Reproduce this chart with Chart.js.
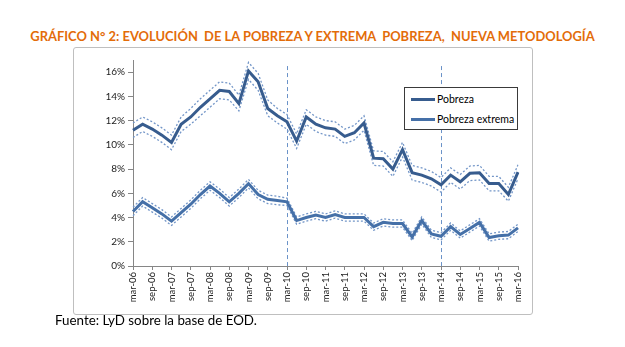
<!DOCTYPE html>
<html><head><meta charset="utf-8">
<script src="https://cdn.jsdelivr.net/npm/chart.js@4.4.1/dist/chart.umd.min.js"></script>
<style>
html,body{margin:0;padding:0;background:#fff;width:625px;height:347px;overflow:hidden;font-family:Lato,"Liberation Sans",sans-serif;}
#title{position:absolute;left:0;width:625px;top:27px;text-align:center;color:#E36C09;font-weight:bold;font-size:14px;white-space:pre;line-height:18px;}
#title span{display:inline-block;}
#box{position:absolute;left:73px;top:47px;width:460px;height:268px;box-sizing:border-box;border:1px solid #BFBFBF;border-radius:3px;}
#wrap{position:absolute;left:74px;top:48px;width:458px;height:266px;}
#legend{position:absolute;left:404px;top:87px;width:114px;height:43px;box-sizing:border-box;border:1px solid #3a3a3a;background:#fff;font-size:10.5px;color:#000;}
.item{position:absolute;left:6px;height:14px;width:105px;}
.swatch{position:absolute;left:0;top:6px;width:24px;height:3px;}
.lab{position:absolute;left:26px;top:0;white-space:nowrap;line-height:14px;}
#foot{position:absolute;left:55px;top:312px;font-size:13px;line-height:16px;color:#000;white-space:nowrap;}
</style></head>
<body>
<div id="title"><span id="tt">GRÁFICO N° 2: EVOLUCIÓN  DE LA POBREZA Y EXTREMA  POBREZA,  NUEVA METODOLOGÍA</span></div>
<div id="box"></div>
<div id="wrap"><canvas id="c"></canvas></div>
<div id="legend"></div>
<div id="foot"><span id="ft">Fuente: LyD sobre la base de EOD.</span></div>
<script>
// ---- data ----
const categories = ['mar-06','jun-06','sep-06','dic-06','mar-07','jun-07','sep-07','dic-07','mar-08','jun-08','sep-08','dic-08',
 'mar-09','jun-09','sep-09','dic-09','mar-10','jun-10','sep-10','dic-10','mar-11','jun-11','sep-11','dic-11',
 'mar-12','jun-12','sep-12','dic-12','mar-13','jun-13','sep-13','dic-13','mar-14','jun-14','sep-14','dic-14',
 'mar-15','jun-15','sep-15','dic-15','mar-16'];
const shownTickLabels = ['mar-06','sep-06','mar-07','sep-07','mar-08','sep-08','mar-09','sep-09','mar-10','sep-10',
 'mar-11','sep-11','mar-12','sep-12','mar-13','sep-13','mar-14','sep-14','mar-15','sep-15','mar-16'];
const yTickValues = [0,2,4,6,8,10,12,14,16];
const markerCategories = ['mar-10','mar-14'];

const pobreza = [11.2,11.7,11.3,10.8,10.2,11.7,12.3,13.1,13.8,14.5,14.4,13.4,
 16.1,15.2,13.0,12.4,11.9,10.3,12.3,11.7,11.4,11.3,10.7,11.0,
 11.8,8.9,8.85,8.0,9.6,7.7,7.5,7.2,6.7,7.5,6.95,7.65,
 7.7,6.8,6.8,5.9,7.75];
const pobrezaSup = [11.8,12.3,11.9,11.4,10.8,12.3,13.0,13.8,14.5,15.2,15.1,14.1,
 16.8,15.9,13.7,13.0,12.5,10.9,12.9,12.3,12.0,11.9,11.3,11.6,
 12.4,9.5,9.45,8.6,10.2,8.3,8.1,7.8,7.3,8.1,7.55,8.25,
 8.3,7.4,7.4,6.5,8.35];
const pobrezaInf = [10.6,11.1,10.7,10.2,9.6,11.1,11.7,12.4,13.1,13.8,13.7,12.8,
 15.4,14.5,12.4,11.8,11.3,9.7,11.7,11.1,10.8,10.7,10.1,10.4,
 11.2,8.3,8.25,7.4,9.0,7.1,6.9,6.6,6.1,6.9,6.35,7.05,
 7.1,6.2,6.2,5.35,7.2];
const extrema = [4.5,5.3,4.8,4.3,3.7,4.4,5.1,5.9,6.6,6.0,5.3,6.0,
 6.8,5.9,5.5,5.4,5.3,3.75,4.0,4.2,4.0,4.25,4.0,4.0,
 4.0,3.25,3.6,3.5,3.5,2.4,3.75,2.65,2.45,3.25,2.6,3.1,
 3.6,2.35,2.5,2.55,3.15];
const extremaSup = [4.85,5.65,5.15,4.65,4.05,4.75,5.45,6.25,6.95,6.35,5.65,6.35,
 7.15,6.25,5.85,5.75,5.6,4.05,4.3,4.5,4.3,4.55,4.3,4.3,
 4.3,3.55,3.9,3.8,3.8,2.7,4.05,2.95,2.75,3.55,2.9,3.4,
 3.9,2.65,2.8,2.85,3.45];
const extremaInf = [4.15,4.95,4.45,3.95,3.35,4.05,4.75,5.55,6.25,5.65,4.95,5.65,
 6.45,5.55,5.15,5.05,5.0,3.45,3.7,3.9,3.7,3.95,3.7,3.7,
 3.7,2.95,3.3,3.2,3.2,2.1,3.45,2.35,2.15,2.95,2.3,2.8,
 3.3,2.05,2.2,2.25,2.85];
const seriesNames = ['Pobreza','Pobreza extrema'];

// ---- styles ----
const colPob = '#375C8E', colExt = '#4570A8', colBand = '#7396C8';
const font = 'Lato, "Liberation Sans", sans-serif';

// fit title and footnote widths
(function(){
  const t=document.getElementById('tt');t.style.fontSize=(14*565/t.getBoundingClientRect().width)+'px';
  const f=document.getElementById('ft');f.style.display='inline-block';
  f.style.fontSize=(13*202/f.getBoundingClientRect().width)+'px';
})();

function mainDs(label,data,color){return {label,data,borderColor:color,backgroundColor:color,borderWidth:3,pointRadius:0,tension:0,legend:true};}
function bandDs(data){return {label:'',data,borderColor:colBand,borderWidth:1.3,borderDash:[2,2],pointRadius:0,tension:0,legend:false};}

const markerLines = {
  id:'markerLines',
  beforeDatasetsDraw(chart){
    const {ctx, scales:{x,y}} = chart;
    ctx.save();
    ctx.strokeStyle = '#6A92C8'; ctx.lineWidth = 1; ctx.setLineDash([4,3]);
    markerCategories.forEach(m=>{
      const px = Math.round(x.getPixelForValue(categories.indexOf(m)))+0.5;
      ctx.beginPath(); ctx.moveTo(px, y.getPixelForValue(16.5)); ctx.lineTo(px, y.getPixelForValue(0)); ctx.stroke();
    });
    ctx.restore();
  }
};

const chart = new Chart(document.getElementById('c'), {
  type:'line',
  data:{labels:categories, datasets:[
    mainDs(seriesNames[0],pobreza,colPob),
    mainDs(seriesNames[1],extrema,colExt),
    bandDs(pobrezaSup),bandDs(pobrezaInf),bandDs(extremaSup),bandDs(extremaInf)
  ]},
  options:{
    responsive:true, maintainAspectRatio:false, animation:false,
    layout:{padding:{top:12,right:14,left:0,bottom:0}},
    plugins:{legend:{display:false},tooltip:{enabled:false},title:{display:false}},
    scales:{
      x:{
        grid:{drawOnChartArea:false,drawTicks:true,tickLength:4,
          color:(c)=> (c.tick && shownTickLabels.includes(categories[c.index])) ? '#868686' : 'rgba(0,0,0,0)'},
        border:{color:'#868686'},
        ticks:{autoSkip:false,minRotation:90,maxRotation:90,padding:2,color:'#222',font:{family:font,size:9.5},
          callback:(v,i)=> shownTickLabels.includes(categories[i]) ? categories[i] : ''},
        afterFit:(s)=>{s.height=48;}
      },
      y:{
        min:0,max:17,
        afterBuildTicks:(s)=>{s.ticks = yTickValues.map(v=>({value:v}));},
        grid:{drawOnChartArea:false,tickLength:5,color:'#868686'},
        border:{color:'#868686'},
        ticks:{padding:3,color:'#222',font:{family:font,size:10},callback:(v)=>v+'%'},
        afterFit:(s)=>{s.width=59;}
      }
    }
  },
  plugins:[markerLines]
});

// HTML legend from datasets
const lg = document.getElementById('legend');
chart.data.datasets.filter(d=>d.legend).forEach((d,i)=>{
  const it=document.createElement('div');it.className='item';it.style.top=(4+i*20)+'px';
  const sw=document.createElement('div');sw.className='swatch';sw.style.background=d.borderColor;
  const lb=document.createElement('div');lb.className='lab';lb.textContent=d.label;
  it.appendChild(sw);it.appendChild(lb);lg.appendChild(it);
});
</script>
</body></html>
